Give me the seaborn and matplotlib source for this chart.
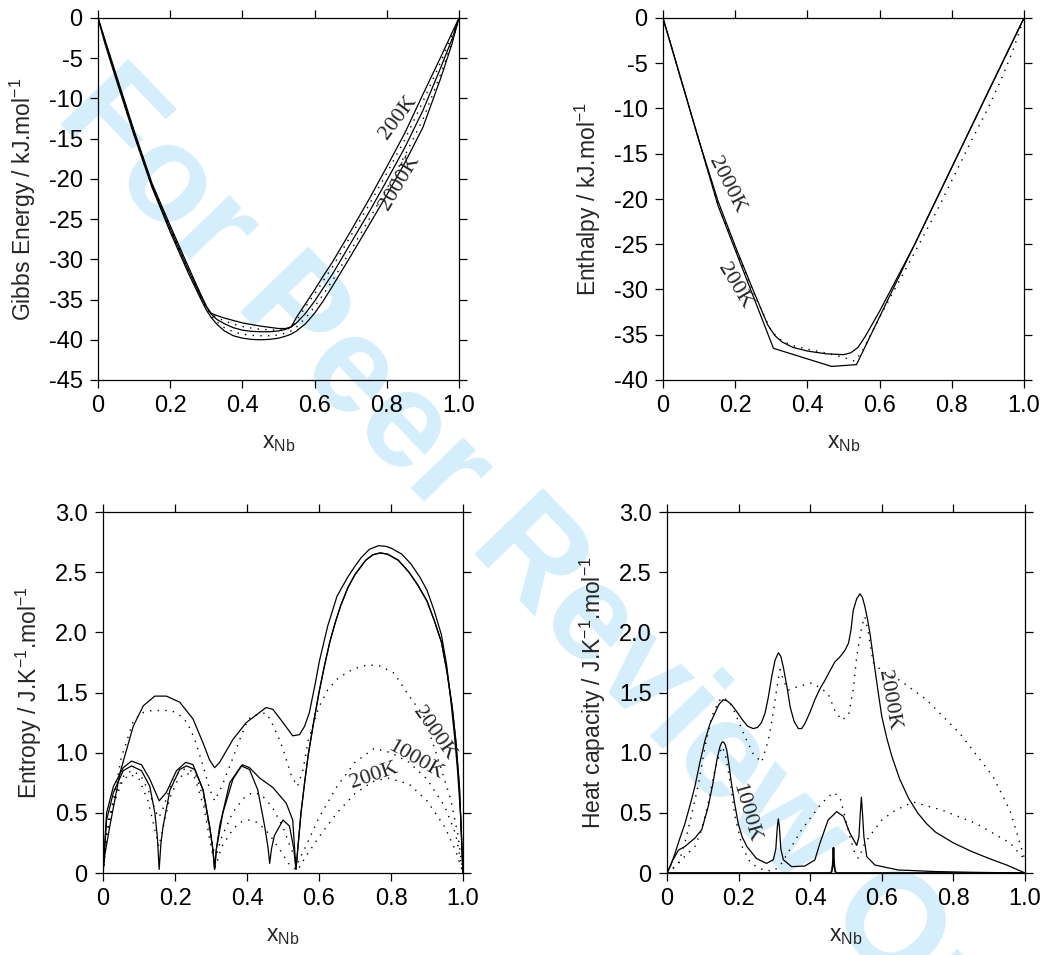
import matplotlib
matplotlib.use('Agg')
import matplotlib.pyplot as plt
import seaborn as sns

# ---------------------------------------------------
# data
# ---------------------------------------------------
# Gibbs energy (kJ/mol)
x_g = [0, 0.02, 0.05, 0.1, 0.15, 0.2, 0.25, 0.28, 0.3, 0.313, 0.33, 0.35, 0.375, 0.4, 0.425,
       0.45, 0.475, 0.5, 0.52, 0.535, 0.55, 0.575, 0.6, 0.625, 0.65, 0.7, 0.75, 0.8, 0.85,
       0.9, 0.95, 0.98, 1.0]
g_200 = [0, -2.8, -7.0, -14.0, -20.6, -25.8, -30.9, -33.9, -35.8, -36.7, -37.0, -37.3, -37.6,
         -37.9, -38.1, -38.3, -38.45, -38.6, -38.6, -38.4, -37.2, -35.5, -33.8, -32.0, -30.3,
         -26.5, -22.6, -18.5, -14.3, -9.5, -4.8, -1.9, 0]
g_500 = [0, -2.9, -7.15, -14.15, -20.75, -26.0, -31.1, -34.0, -35.85, -36.75, -37.25, -37.65,
         -38.05, -38.35, -38.55, -38.7, -38.75, -38.8, -38.75, -38.5, -37.6, -35.9, -34.3, -32.6,
         -30.9, -27.1, -23.3, -19.3, -15.1, -10.4, -5.4, -2.2, 0]
g_1000 = [0, -3.0, -7.3, -14.3, -20.9, -26.2, -31.3, -34.2, -35.9, -36.8, -37.5, -38.0, -38.5,
          -38.8, -38.95, -39.0, -39.0, -38.9, -38.7, -38.4, -37.9, -36.7, -35.2, -33.5, -31.8,
          -28.0, -24.2, -20.2, -16.1, -11.5, -6.1, -2.7, 0]
g_1500 = [0, -3.15, -7.45, -14.45, -21.0, -26.4, -31.5, -34.4, -36.1, -37.0, -37.8, -38.5, -39.0,
          -39.3, -39.45, -39.5, -39.5, -39.4, -39.15, -38.9, -38.4, -37.3, -35.9, -34.3, -32.6,
          -28.9, -25.1, -21.2, -17.1, -12.6, -6.9, -3.1, 0]
g_2000 = [0, -3.3, -7.6, -14.6, -21.1, -26.6, -31.7, -34.5, -36.3, -37.2, -38.1, -38.9, -39.5,
          -39.8, -39.95, -40.0, -39.95, -39.8, -39.55, -39.3, -38.9, -38.0, -36.7, -35.1, -33.3,
          -29.6, -25.8, -22.0, -18.0, -13.6, -7.4, -3.3, 0]
g_yticks = [0, -5, -10, -15, -20, -25, -30, -35, -40, -45]

# Enthalpy (kJ/mol)
x_h200 = [0, 0.153, 0.306, 0.467, 0.536, 1.0]
h_200 = [0, -20.8, -36.5, -38.5, -38.3, 0]
x_h2000 = [0, 0.05, 0.1, 0.153, 0.2, 0.25, 0.29, 0.31, 0.33, 0.36, 0.4, 0.45, 0.5, 0.52, 0.54,
           0.56, 0.6, 0.7, 0.8, 0.9, 1.0]
h_2000 = [0, -6.8, -13.6, -20.3, -25.2, -30.1, -33.9, -35.1, -35.8, -36.4, -36.8, -37.1, -37.2,
          -37.0, -36.4, -35.2, -32.4, -24.8, -16.5, -8.2, 0]
x_hdot = [0, 0.05, 0.1, 0.15, 0.2, 0.25, 0.3, 0.33, 0.36, 0.4, 0.45, 0.5, 0.53, 0.55, 0.58,
          0.62, 0.7, 0.76, 0.85, 0.9, 0.94, 0.97, 1.0]
h_dot = [0, -6.8, -13.6, -20.4, -25.4, -30.3, -34.6, -35.7, -36.2, -36.6, -37.0, -37.5, -37.9,
         -37.0, -34.6, -31.6, -25.7, -21.2, -13.9, -10.0, -6.5, -3.5, 0]
h_yticks = [0, -5, -10, -15, -20, -25, -30, -35, -40]

# Entropy (J/K/mol)
x_s_up = [0, 0.005, 0.019, 0.047, 0.084, 0.112, 0.144, 0.176, 0.213, 0.25, 0.278, 0.296, 0.31,
          0.324, 0.361, 0.398, 0.453, 0.472, 0.5, 0.527, 0.546, 0.56, 0.573, 0.59, 0.601, 0.624,
          0.65, 0.68, 0.7, 0.717, 0.74, 0.765, 0.785, 0.8, 0.83, 0.855, 0.88, 0.9, 0.92, 0.94,
          0.955, 0.966, 0.976, 0.984, 0.993, 1.0]
s_up = [0, 0.15, 0.39, 0.83, 1.22, 1.39, 1.47, 1.47, 1.42, 1.28, 1.08, 0.94, 0.875, 0.92, 1.11,
        1.25, 1.375, 1.36, 1.25, 1.14, 1.15, 1.22, 1.33, 1.58, 1.76, 2.05, 2.3, 2.46, 2.55, 2.62,
        2.69, 2.72, 2.715, 2.70, 2.65, 2.57, 2.46, 2.35, 2.18, 1.98, 1.72, 1.44, 1.15, 0.88, 0.5,
        0]
x_s_peak = [0.55, 0.56, 0.57, 0.585, 0.6, 0.615, 0.63, 0.645, 0.66, 0.68, 0.7, 0.73, 0.75, 0.77,
            0.79, 0.82, 0.85, 0.875, 0.9, 0.92, 0.94, 0.955, 0.97, 0.98, 0.99, 1.0]
s_peak = [0.5, 0.75, 0.98, 1.25, 1.5, 1.72, 1.92, 2.08, 2.22, 2.37, 2.48, 2.6, 2.645, 2.66, 2.65,
          2.6, 2.5, 2.39, 2.26, 2.1, 1.92, 1.68, 1.38, 1.1, 0.72, 0]
x_s_a = [0, 0.01, 0.029, 0.056, 0.079, 0.107, 0.13, 0.156, 0.176, 0.204, 0.23, 0.25, 0.278,
         0.296, 0.305, 0.31, 0.315, 0.333, 0.361, 0.387, 0.407, 0.435, 0.472, 0.509, 0.527, 0.536]
s_a = [0, 0.5, 0.72, 0.875, 0.93, 0.90, 0.78, 0.6, 0.67, 0.85, 0.92, 0.90, 0.69, 0.39, 0.2,
       0.03, 0.2, 0.5, 0.78, 0.90, 0.875, 0.79, 0.71, 0.58, 0.44, 0.03]
x_s_b = [0, 0.01, 0.029, 0.056, 0.079, 0.107, 0.13, 0.144, 0.151, 0.156, 0.161, 0.167, 0.186,
         0.213, 0.232, 0.255, 0.278, 0.296, 0.305, 0.31, 0.315, 0.324, 0.352, 0.384, 0.407, 0.43,
         0.449, 0.458, 0.463, 0.468, 0.476, 0.5, 0.518, 0.53, 0.536]
s_b = [0, 0.44, 0.67, 0.85, 0.89, 0.85, 0.72, 0.5, 0.3, 0.03, 0.25, 0.39, 0.69, 0.86, 0.89, 0.86,
       0.69, 0.39, 0.2, 0.03, 0.2, 0.39, 0.75, 0.89, 0.86, 0.69, 0.39, 0.22, 0.08, 0.2, 0.31,
       0.44, 0.39, 0.2, 0.03]
x_s_d1 = [0, 0.01, 0.029, 0.05, 0.084, 0.107, 0.135, 0.163, 0.19, 0.213, 0.234, 0.255, 0.278,
          0.296, 0.31, 0.33, 0.36, 0.38, 0.403, 0.43, 0.453, 0.467, 0.49, 0.5, 0.523, 0.54, 0.555,
          0.57, 0.6, 0.624, 0.65, 0.68, 0.7, 0.735, 0.77, 0.809, 0.846, 0.892, 0.938, 0.966,
          0.985, 1.0]
s_d1 = [0, 0.3, 0.6, 0.95, 1.26, 1.33, 1.35, 1.35, 1.35, 1.31, 1.25, 1.11, 0.89, 0.7, 0.6, 0.72,
        0.95, 1.11, 1.28, 1.32, 1.33, 1.26, 1.11, 1.03, 0.81, 0.72, 0.85, 1.1, 1.38, 1.52, 1.61,
        1.67, 1.70, 1.73, 1.72, 1.66, 1.49, 1.30, 0.88, 0.61, 0.33, 0]
x_s_d2 = [0, 0.01, 0.03, 0.055, 0.079, 0.105, 0.13, 0.145, 0.155, 0.165, 0.185, 0.21, 0.232,
          0.255, 0.28, 0.3, 0.312, 0.33, 0.36, 0.39, 0.416, 0.44, 0.47, 0.5, 0.52, 0.54, 0.56,
          0.6, 0.65, 0.7, 0.753, 0.8, 0.85, 0.9, 0.95, 0.98, 1.0]
s_d2 = [0, 0.38, 0.62, 0.8, 0.85, 0.81, 0.66, 0.52, 0.46, 0.52, 0.7, 0.84, 0.87, 0.83, 0.62,
        0.3, 0.12, 0.3, 0.5, 0.62, 0.67, 0.65, 0.55, 0.38, 0.22, 0.08, 0.2, 0.46, 0.72, 0.92,
        1.035, 1.0, 0.92, 0.78, 0.55, 0.32, 0]
x_s_d3 = [0, 0.01, 0.03, 0.055, 0.075, 0.1, 0.125, 0.145, 0.155, 0.165, 0.185, 0.21, 0.232,
          0.255, 0.28, 0.3, 0.312, 0.33, 0.36, 0.38, 0.405, 0.43, 0.46, 0.49, 0.515, 0.54, 0.56,
          0.6, 0.65, 0.7, 0.75, 0.79, 0.85, 0.9, 0.95, 0.98, 1.0]
s_d3 = [0, 0.33, 0.58, 0.77, 0.82, 0.78, 0.6, 0.35, 0.22, 0.35, 0.62, 0.79, 0.83, 0.79, 0.55,
        0.22, 0.05, 0.22, 0.36, 0.42, 0.44, 0.42, 0.33, 0.2, 0.08, 0.02, 0.12, 0.3, 0.5, 0.66,
        0.76, 0.79, 0.74, 0.6, 0.38, 0.18, 0]

# Heat capacity (J/K/mol)
x_c2000 = [0, 0.01, 0.022, 0.035, 0.05, 0.065, 0.078, 0.092, 0.106, 0.12, 0.134, 0.145, 0.157,
           0.168, 0.18, 0.195, 0.209, 0.225, 0.241, 0.253, 0.264, 0.274, 0.283, 0.293, 0.302,
           0.311, 0.318, 0.325, 0.335, 0.344, 0.355, 0.367, 0.376, 0.385, 0.4, 0.413, 0.427,
           0.441, 0.455, 0.469, 0.478, 0.487, 0.497, 0.507, 0.514, 0.52, 0.53, 0.539, 0.546,
           0.553, 0.56, 0.567, 0.574, 0.581, 0.59, 0.6, 0.614, 0.628, 0.65, 0.675, 0.7, 0.725,
           0.75, 0.8, 0.85, 0.9, 0.95, 1.0]
c_2000 = [0, 0.06, 0.16, 0.28, 0.41, 0.57, 0.72, 0.92, 1.1, 1.24, 1.33, 1.4, 1.44, 1.43, 1.40,
          1.34, 1.28, 1.22, 1.2, 1.21, 1.25, 1.33, 1.46, 1.64, 1.77, 1.83, 1.80, 1.71, 1.55, 1.38,
          1.26, 1.20, 1.20, 1.24, 1.34, 1.44, 1.53, 1.60, 1.68, 1.755, 1.78, 1.81, 1.85, 1.91,
          2.02, 2.18, 2.28, 2.32, 2.29, 2.21, 2.11, 1.99, 1.84, 1.69, 1.50, 1.30, 1.12, 0.97,
          0.78, 0.62, 0.50, 0.41, 0.34, 0.25, 0.18, 0.12, 0.065, 0]
x_c1000 = [0, 0.015, 0.032, 0.05, 0.078, 0.097, 0.115, 0.128, 0.14, 0.148, 0.153, 0.157, 0.162,
           0.167, 0.173, 0.18, 0.19, 0.199, 0.21, 0.223, 0.25, 0.278, 0.297, 0.304, 0.308, 0.311,
           0.314, 0.318, 0.325, 0.348, 0.385, 0.413, 0.427, 0.45, 0.474, 0.493, 0.511, 0.53,
           0.536, 0.54, 0.543, 0.546, 0.55, 0.558, 0.581, 0.646, 0.75, 0.85, 1.0]
c_1000 = [0, 0.1, 0.19, 0.22, 0.29, 0.36, 0.55, 0.74, 0.95, 1.05, 1.085, 1.09, 1.07, 1.02, 0.9,
          0.745, 0.56, 0.41, 0.3, 0.22, 0.12, 0.08, 0.11, 0.2, 0.38, 0.45, 0.38, 0.2, 0.11, 0.053,
          0.058, 0.108, 0.246, 0.44, 0.51, 0.47, 0.33, 0.23, 0.3, 0.5, 0.63, 0.5, 0.3, 0.136,
          0.066, 0.025, 0.012, 0.006, 0]
x_c200 = [0, 0.455, 0.46, 0.463, 0.465, 0.467, 0.47, 0.475, 1.0]
c_200 = [0, 0, 0.01, 0.07, 0.21, 0.07, 0.01, 0, 0]
x_cd1 = [0, 0.032, 0.05, 0.07, 0.088, 0.106, 0.125, 0.145, 0.157, 0.175, 0.19, 0.218, 0.241,
         0.264, 0.283, 0.295, 0.302, 0.31, 0.316, 0.325, 0.339, 0.367, 0.404, 0.432, 0.45, 0.469,
         0.488, 0.507, 0.52, 0.53, 0.544, 0.553, 0.562, 0.576, 0.6, 0.651, 0.725, 0.818, 0.911,
         0.958, 1.0]
c_d1 = [0, 0.08, 0.25, 0.5, 0.74, 1.05, 1.3, 1.43, 1.46, 1.42, 1.33, 1.13, 0.99, 0.92, 1.1, 1.3,
        1.44, 1.6, 1.69, 1.6, 1.52, 1.55, 1.58, 1.53, 1.49, 1.35, 1.27, 1.31, 1.52, 1.80, 2.05,
        2.13, 2.0, 1.75, 1.68, 1.6, 1.44, 1.16, 0.80, 0.52, 0.11]
x_cd2 = [0, 0.022, 0.05, 0.078, 0.097, 0.115, 0.134, 0.153, 0.162, 0.176, 0.19, 0.21, 0.23,
         0.25, 0.275, 0.3, 0.32, 0.348, 0.376, 0.404, 0.432, 0.465, 0.483, 0.497, 0.511, 0.525,
         0.535, 0.553, 0.572, 0.6, 0.637, 0.688, 0.771, 0.864, 0.958, 1.0]
c_d2 = [0, 0.05, 0.14, 0.22, 0.36, 0.58, 0.86, 1.05, 1.0, 0.77, 0.47, 0.22, 0.1, 0.05, 0.02,
        0.02, 0.08, 0.22, 0.36, 0.47, 0.58, 0.67, 0.63, 0.47, 0.30, 0.16, 0.12, 0.25, 0.33, 0.44,
        0.52, 0.59, 0.52, 0.41, 0.25, 0.11]
s_yticks = [0, 0.5, 1.0, 1.5, 2.0, 2.5, 3.0]
s_yticklabels = ['0', '0.5', '1.0', '1.5', '2.0', '2.5', '3.0']

x_ticks = [0, 0.2, 0.4, 0.6, 0.8, 1.0]
x_ticklabels = ['0', '0.2', '0.4', '0.6', '0.8', '1.0']

# ---------------------------------------------------
# style
# ---------------------------------------------------
sns.set_theme(style='ticks')
plt.rcParams['font.family'] = ['Liberation Sans', 'DejaVu Sans']
plt.rcParams['axes.unicode_minus'] = False
plt.rcParams['mathtext.default'] = 'regular'

SOLID = dict(color='black', linewidth=0.9, linestyle='-')
DOTS = dict(color='black', linewidth=1.0, linestyle=(0, (1, 4.5)))
TFONT = dict(family=['Liberation Serif', 'DejaVu Serif'], fontsize=16, ha='center', va='center',
             rotation_mode='anchor')

fig = plt.figure(figsize=(10.46, 9.55), dpi=100)

# watermark
fig.text(570 / 1046, 1 - 602 / 955, 'For Peer Review Only', rotation=-46, rotation_mode='anchor',
         ha='center', va='center', fontsize=99, fontweight='bold', color='#d5eefb', zorder=-1)

ax1 = fig.add_axes([98 / 1046, 1 - 380 / 955, 361 / 1046, 362 / 955])
ax2 = fig.add_axes([663 / 1046, 1 - 380 / 955, 361 / 1046, 362 / 955])
ax3 = fig.add_axes([103 / 1046, 1 - 873 / 955, 360 / 1046, 361 / 955])
ax4 = fig.add_axes([667 / 1046, 1 - 873 / 955, 358 / 1046, 361 / 955])


def line(ax, x, y, style):
    sns.lineplot(x=x, y=y, ax=ax, estimator=None, sort=False, **style)


def dress(ax, yticks, ylabels, ylim, ylabel):
    ax.set_facecolor('none')
    ax.set_xlim(0, 1)
    ax.set_ylim(*ylim)
    ax.set_xticks(x_ticks)
    ax.set_xticklabels(x_ticklabels)
    ax.set_yticks(yticks)
    ax.set_yticklabels(ylabels)
    ax.tick_params(direction='out', length=6, width=0.9, top=True, right=True,
                   labelsize=17, pad=5, color='black', labelcolor='black')
    for sp in ax.spines.values():
        sp.set_visible(True)
        sp.set_linewidth(0.9)
        sp.set_color('black')
    ax.set_xlabel('x$_{Nb}$', fontsize=16.5, labelpad=10)
    ax.set_ylabel(ylabel, fontsize=16.5, labelpad=8)


# Gibbs energy
for y, st in [(g_200, SOLID), (g_500, DOTS), (g_1000, SOLID), (g_1500, DOTS), (g_2000, SOLID)]:
    line(ax1, x_g, y, st)
dress(ax1, g_yticks, [str(v) for v in g_yticks], (-45, 0), 'Gibbs Energy / kJ.mol$^{-1}$')
ax1.text(0.832, -12.35, '200K', rotation=53, **TFONT)
ax1.text(0.835, -20.5, '2000K', rotation=59, **TFONT)

# Enthalpy
line(ax2, x_h200, h_200, SOLID)
line(ax2, x_h2000, h_2000, SOLID)
line(ax2, x_hdot, h_dot, DOTS)
dress(ax2, h_yticks, [str(v) for v in h_yticks], (-40, 0), 'Enthalpy / kJ.mol$^{-1}$')
ax2.text(0.178, -18.5, '2000K', rotation=-63, **TFONT)
ax2.text(0.197, -29.6, '200K', rotation=-59, **TFONT)

# Entropy
line(ax3, x_s_up, s_up, SOLID)
line(ax3, x_s_a + x_s_peak, s_a + s_peak, SOLID)
line(ax3, x_s_b + x_s_peak, s_b + s_peak, SOLID)
line(ax3, x_s_d1, s_d1, DOTS)
line(ax3, x_s_d2, s_d2, DOTS)
line(ax3, x_s_d3, s_d3, DOTS)
dress(ax3, s_yticks, s_yticklabels, (0, 3.0), 'Entropy / J.K$^{-1}$.mol$^{-1}$')
ax3.text(0.92, 1.16, '2000K', rotation=-55, **TFONT)
ax3.text(0.869, 0.94, '1000K', rotation=-30, **TFONT)
ax3.text(0.753, 0.81, '200K', rotation=19, **TFONT)

# Heat capacity
line(ax4, x_c2000, c_2000, SOLID)
line(ax4, x_c1000, c_1000, SOLID)
line(ax4, x_c200, c_200, dict(SOLID, linewidth=1.3))
line(ax4, x_cd1, c_d1, DOTS)
line(ax4, x_cd2, c_d2, DOTS)
dress(ax4, s_yticks, s_yticklabels, (0, 3.0), 'Heat capacity / J.K$^{-1}$.mol$^{-1}$')
ax4.text(0.62, 1.44, '2000K', rotation=-80, **TFONT)
ax4.text(0.22, 0.50, '1000K', rotation=-74, **TFONT)

fig.savefig('out.png', dpi=100)
